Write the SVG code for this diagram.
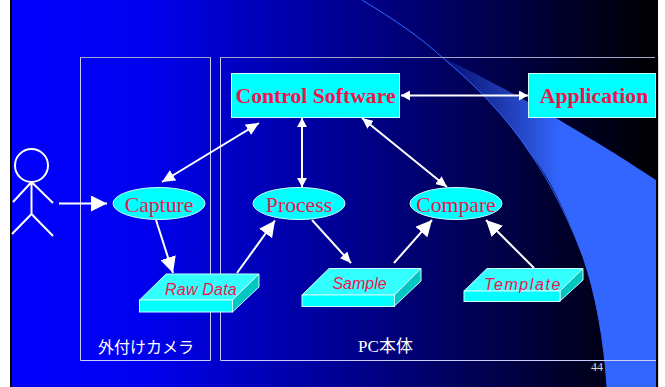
<svg xmlns="http://www.w3.org/2000/svg" width="665" height="387" viewBox="0 0 665 387">
<style>
.frame{fill:none;stroke:#ccccff;stroke-width:1}
.top{fill:none;stroke:#a4a4c8;stroke-width:1}
.conn line{stroke:#fff;stroke-width:2}
.box{fill:#00ffff;stroke:#ccffff;stroke-width:1}
.t3{fill:#00c8c0;stroke:#ccffff;stroke-width:1}
.t2{fill:#33ffff;stroke:#ccffff;stroke-width:1}
.b{font-family:"Liberation Serif",serif;font-weight:bold;font-size:21.7px;fill:#f0144a;text-anchor:middle}
.e{font-family:"Liberation Serif",serif;font-size:21.7px;fill:#f0144a;text-anchor:middle}
.i{font-family:"Liberation Sans",sans-serif;font-style:italic;font-size:16px;fill:#f0144a;text-anchor:middle}
.w{font-family:"Liberation Serif","Noto Sans CJK JP",sans-serif;font-size:16px;fill:#fff;text-anchor:middle}
.fig{fill:none;stroke:#fff;stroke-width:2}
</style>
<defs>
<linearGradient id="bg" gradientUnits="userSpaceOnUse" x1="12" y1="0" x2="656" y2="0">
<stop offset="0" stop-color="#0000ff"/><stop offset="0.2" stop-color="#0000f0"/><stop offset="1" stop-color="#000000"/>
</linearGradient>
<linearGradient id="cres" gradientUnits="userSpaceOnUse" x1="430" y1="0" x2="560" y2="0">
<stop offset="0" stop-color="#3366ff" stop-opacity="0.03"/><stop offset="1" stop-color="#3366ff"/>
</linearGradient>
<marker id="ah" markerUnits="userSpaceOnUse" markerWidth="13" markerHeight="12" refX="13" refY="6" orient="auto-start-reverse" viewBox="0 0 13 12"><path d="M0 0L13 6L0 12Z" fill="#fff"/></marker>
<marker id="ahs" markerUnits="userSpaceOnUse" markerWidth="9" markerHeight="10" refX="9" refY="5" orient="auto-start-reverse" viewBox="0 0 9 10"><path d="M0 0L9 5L0 10Z" fill="#fff"/></marker>
<marker id="ahm" markerUnits="userSpaceOnUse" markerWidth="11" markerHeight="10" refX="11" refY="5" orient="auto-start-reverse" viewBox="0 0 11 10"><path d="M0 0L11 5L0 10Z" fill="#fff"/></marker>
<marker id="ahb" markerUnits="userSpaceOnUse" markerWidth="16" markerHeight="16" refX="16" refY="8" orient="auto" viewBox="0 0 16 16"><path d="M0 0L16 8L0 16Z" fill="#fff"/></marker>
</defs>
<rect width="665" height="387" fill="#fff"/>
<rect x="10" y="0" width="648" height="387" fill="#000"/>
<rect x="12" y="0" width="644" height="387" fill="url(#bg)"/>
<path d="M362 0C395 20 425 43 443 58C475 72 565 120 656 180V387H607C604 340 596 295 583 257C570 222 552 180 530 153C505 115 475 85 443 58C420 38 390 17 362 0Z" fill="url(#cres)"/>
<path d="M362 0C395 20 420 37 443 58C475 85 505 115 530 153C552 185 570 222 583 257C596 295 604 340 607 387" fill="none" stroke="#3366ff" stroke-width="1"/>
<rect x="656" y="0" width="2" height="387" fill="#000"/>
<line x1="658.500" y1="57" x2="658.500" y2="387" stroke="#dddddd" stroke-width="1"/>
<g id="frame-camera"><path class="frame" d="M80.500 57.500V360.500H210.500V57.500"/><path class="top" d="M80 57.500H211"/><text class="w" x="146" y="353">外付けカメラ</text></g>
<g id="frame-pc"><path class="frame" d="M220.500 57.500V360.500H656"/><path class="top" d="M220 57.500H655"/><text class="w" x="385.500" y="352" style="font-size:17px">PC本体</text></g>
<g id="page-number"><text x="597" y="371" font-family="Liberation Serif,serif" font-size="12" fill="#dddddd" text-anchor="middle">44</text></g>
<g id="actor" class="fig"><circle cx="31.500" cy="165.500" r="16.500"/><path d="M31.500 182V215M31.500 182L13 202M31.500 182L53 203M31.500 214L12 234M31.500 214L53 236"/></g>
<g id="connectors" class="conn">
<line x1="59" y1="203.500" x2="107" y2="203.500" marker-end="url(#ahb)"/>
<line x1="162" y1="182" x2="259" y2="123" marker-start="url(#ah)" marker-end="url(#ah)"/>
<line x1="302" y1="118" x2="302" y2="187" marker-start="url(#ahs)" marker-end="url(#ahs)"/>
<line x1="362" y1="118" x2="447" y2="187" marker-start="url(#ahm)" marker-end="url(#ahm)"/>
<line x1="401" y1="95.500" x2="528" y2="95.500" marker-start="url(#ahs)" marker-end="url(#ahs)"/>
<line x1="156" y1="220" x2="173" y2="273" marker-end="url(#ahb)"/>
<line x1="237" y1="273" x2="275" y2="220.500" marker-end="url(#ahb)"/>
<line x1="312" y1="220" x2="351" y2="263" marker-end="url(#ahm)"/>
<line x1="394" y1="263" x2="432" y2="220" marker-end="url(#ahb)"/>
<line x1="534" y1="268" x2="486" y2="220" marker-end="url(#ahb)"/>
</g>
<g id="control-software"><rect class="box" x="231.500" y="73.500" width="168" height="44"/><text class="b" x="315.500" y="103">Control Software</text></g>
<g id="application"><rect class="box" x="528.500" y="73.500" width="127" height="44"/><text class="b" x="594" y="103">Application</text></g>
<g id="capture"><ellipse class="box" cx="159" cy="203.500" rx="46" ry="16"/><text class="e" x="159" y="211.500">Capture</text></g>
<g id="process"><ellipse class="box" cx="299" cy="203.500" rx="46" ry="16"/><text class="e" x="299" y="211.500">Process</text></g>
<g id="compare"><ellipse class="box" cx="456" cy="203.500" rx="46" ry="16"/><text class="e" x="456" y="211.500">Compare</text></g>
<g id="raw-data"><path class="t2" d="M139.500 300L166 274H259L232 300Z"/><path class="t3" d="M232.500 300L259 274V287L232.500 312Z"/><rect class="box" x="139.500" y="300" width="93" height="12"/><text class="i" x="201" y="295" letter-spacing="0.2">Raw Data</text></g>
<g id="sample"><path class="t2" d="M302 295L329 268.500H421L394 295Z"/><path class="t3" d="M394.500 295L421 268.500V281L394.500 306Z"/><rect class="box" x="302" y="295" width="92.500" height="11.500"/><text class="i" x="359.500" y="289">Sample</text></g>
<g id="template"><path class="t2" d="M464 291L487 268.500H583L560 291Z"/><path class="t3" d="M560 291L583 268.500V280L560 301Z"/><rect class="box" x="464" y="291" width="96" height="10.500"/><text class="i" x="523" y="289.500" letter-spacing="1.6">Template</text></g>
</svg>
